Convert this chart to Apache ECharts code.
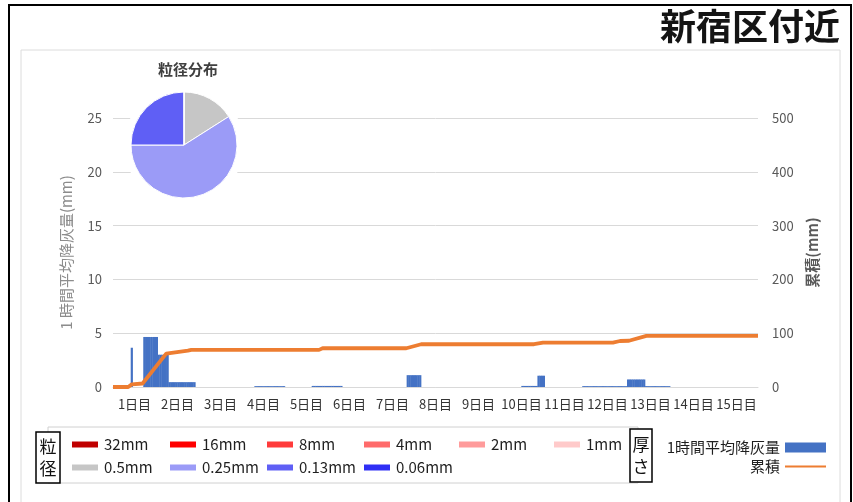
<!DOCTYPE html>
<html>
<head>
<meta charset="utf-8">
<title>新宿区付近</title>
<script src="https://cdn.jsdelivr.net/npm/echarts@6/dist/echarts.min.js"></script>
<style>
  html, body { margin: 0; padding: 0; background: #fff; }
  #chart { width: 853px; height: 502px; }
</style>
</head>
<body>
<div id="chart"></div>
<script>
// 横軸（日）
const dayLabels = ['1日目', '2日目', '3日目', '4日目', '5日目', '6日目', '7日目', '8日目',
  '9日目', '10日目', '11日目', '12日目', '13日目', '14日目', '15日目']

// 1時間平均降灰量(mm) 時間帯ごと: 開始時, 終了時, 値
const ashStartHour = [10, 17, 25, 31, 79, 111, 164, 228, 237, 262, 287, 297]
const ashEndHour = [10, 24, 30, 45, 95, 127, 171, 236, 240, 286, 296, 310]
const ashValue = [3.65, 4.65, 3.0, 0.45, 0.08, 0.1, 1.1, 0.1, 1.05, 0.08, 0.7, 0.08]

// 累積(mm)
const cumHour = [0, 8.5, 10.5, 16.5, 29.7, 41.8, 43.7, 115, 117, 163.7, 172, 235, 240, 279, 283, 288, 297.7, 360]
const cumValue = [0, 0, 5, 6.5, 62, 67.5, 69, 69, 72, 72, 79.5, 79.5, 82.5, 82.5, 85.5, 86, 95, 95]

// 粒径分布(%)
const grainNames = ['32mm', '16mm', '8mm', '4mm', '2mm', '1mm', '0.5mm', '0.25mm', '0.13mm', '0.06mm']
const grainShare = [0, 0, 0, 0, 0, 0, 16, 59, 25, 0]
const grainColors = ['#C00000', '#FF0000', '#FF3B3B', '#FF6B6B', '#FF9B9B', '#FFCACA',
  '#C6C6C6', '#9B9BF7', '#5F5FF5', '#2F2FF5']

const FONT = '"Noto Sans CJK JP", "Noto Sans", sans-serif'
const totalHours = dayLabels.length * 24

const hourCats = []
const ashHourly = []
for (let h = 0; h < totalHours; h++) {
  hourCats.push(h)
  ashHourly.push(0)
}
ashStartHour.forEach((s, i) => {
  for (let h = s; h <= ashEndHour[i]; h++) ashHourly[h] = ashValue[i]
})

const legendCols = [70, 168, 265, 362, 457, 552] // 凡例の列位置
const grainLegends = legendCols.map((x, i) => ({
  left: x,
  top: 437,
  orient: 'vertical',
  padding: 0,
  itemGap: 8,
  itemWidth: 28,
  itemHeight: 8,
  icon: 'rect',
  selectedMode: false,
  textStyle: { fontFamily: FONT, fontSize: 15, color: '#1f1f1f' },
  data: grainNames.filter((n, j) => j % 6 === i),
}))

const option = {
  animation: false,
  textStyle: { fontFamily: FONT },
  title: {
    text: '新宿区付近',
    right: 13,
    top: 8,
    padding: 0,
    textStyle: { fontFamily: FONT, fontSize: 36, fontWeight: 'bold', color: '#141414' },
  },
  grid: {
    left: 113,
    right: 95,
    top: 118,
    bottom: 115,
    outerBoundsMode: 'none',
  },
  legend: [
    ...grainLegends,
    {
      right: 26,
      top: 440,
      orient: 'vertical',
      align: 'right',
      padding: 0,
      itemGap: 4,
      itemWidth: 41,
      itemHeight: 10,
      selectedMode: false,
      textStyle: { fontFamily: FONT, fontSize: 15, color: '#1f1f1f' },
      data: [
        { name: '1時間平均降灰量', icon: 'rect' },
        { name: '累積', itemStyle: { opacity: 0 } },
      ],
    },
  ],
  xAxis: [
    { type: 'category', data: hourCats, show: false, boundaryGap: true },
    { type: 'value', min: 0, max: totalHours, show: false },
    {
      type: 'category',
      data: dayLabels,
      position: 'bottom',
      axisLine: { lineStyle: { color: '#d9d9d9' } },
      axisTick: { length: 5, lineStyle: { color: '#d9d9d9' } },
      axisLabel: { color: '#333', fontSize: 13, margin: 11, interval: 0, fontFamily: FONT },
    },
  ],
  yAxis: [
    {
      type: 'value',
      min: 0,
      max: 25,
      interval: 5,
      name: '1 時間平均降灰量(mm)',
      nameLocation: 'middle',
      nameRotate: 90,
      nameGap: 39,
      nameTextStyle: { color: '#8c8c8c', fontSize: 15, fontFamily: FONT },
      axisLine: { show: false },
      axisTick: { show: false },
      axisLabel: { color: '#595959', fontSize: 13, margin: 11 },
      splitLine: { lineStyle: { color: '#d9d9d9' } },
    },
    {
      type: 'value',
      min: 0,
      max: 500,
      interval: 100,
      position: 'right',
      name: '累積(mm)',
      nameLocation: 'middle',
      nameRotate: 90,
      nameGap: 45,
      nameTextStyle: { color: '#595959', fontSize: 15, fontWeight: 'bold', fontFamily: FONT },
      axisLine: { show: false },
      axisTick: { show: false },
      axisLabel: { color: '#595959', fontSize: 13, margin: 14 },
      splitLine: { show: false },
    },
  ],
  series: [
    {
      name: '1時間平均降灰量',
      type: 'bar',
      xAxisIndex: 0,
      yAxisIndex: 0,
      data: ashHourly,
      barWidth: 2.2,
      barGap: '0%',
      itemStyle: { color: '#4472C4' },
      silent: true,
    },
    {
      name: '累積',
      type: 'line',
      xAxisIndex: 1,
      yAxisIndex: 1,
      data: cumHour.map((h, i) => [h, cumValue[i]]),
      symbol: 'none',
      lineStyle: { color: '#ED7D31', width: 3.8 },
      itemStyle: { color: '#ED7D31' },
      z: 3,
      silent: true,
    },
    {
      // 円グラフ背景
      name: 'pieBg',
      type: 'pie',
      center: [184, 145],
      radius: 60,
      silent: true,
      label: { show: false },
      labelLine: { show: false },
      data: [{ name: '', value: 1, itemStyle: { color: '#fff' } }],
      z: 4,
    },
    {
      name: '粒径分布',
      type: 'pie',
      center: [184, 145],
      radius: 53,
      startAngle: 90,
      clockwise: true,
      silent: true,
      label: { show: false },
      labelLine: { show: false },
      itemStyle: { borderColor: '#fff', borderWidth: 1 },
      data: grainNames.map((n, i) => ({ name: n, value: grainShare[i], itemStyle: { color: grainColors[i] } })),
      z: 5,
    },
  ],
  graphic: {
    elements: [
      { type: 'rect', shape: { x: 9, y: 5, width: 842, height: 510 }, style: { fill: 'none', stroke: '#000', lineWidth: 2 }, z: 0 },
      { type: 'rect', shape: { x: 21, y: 50, width: 819, height: 460 }, style: { fill: 'none', stroke: '#dcdcdc', lineWidth: 1 }, z: 0 },
      {
        type: 'text', x: 188, y: 69, z: 10,
        style: { text: '粒径分布', font: 'bold 15px ' + FONT, fill: '#404040', align: 'center', verticalAlign: 'middle', textAlign: 'center', textVerticalAlign: 'middle' },
      },
      { type: 'rect', shape: { x: 48, y: 427, width: 590, height: 56 }, style: { fill: 'none', stroke: '#d0d0d0', lineWidth: 1 }, z: 0 },
      { type: 'rect', shape: { x: 36, y: 432, width: 24, height: 51 }, style: { fill: '#fff', stroke: '#000', lineWidth: 1.5 }, z: 10 },
      {
        type: 'text', x: 48, y: 458, z: 11,
        style: { text: '粒\n径', font: '17px ' + FONT, lineHeight: 22, fill: '#111', align: 'center', verticalAlign: 'middle', textAlign: 'center', textVerticalAlign: 'middle' },
      },
      { type: 'rect', shape: { x: 630, y: 429, width: 22, height: 53 }, style: { fill: '#fff', stroke: '#000', lineWidth: 1.5 }, z: 10 },
      {
        type: 'text', x: 641, y: 456, z: 11,
        style: { text: '厚\nさ', font: '17px ' + FONT, lineHeight: 22, fill: '#111', align: 'center', verticalAlign: 'middle', textAlign: 'center', textVerticalAlign: 'middle' },
      },
    ],
  },
}

const myChart = echarts.init(document.getElementById('chart'))
myChart.setOption(option)
window.addEventListener('resize', () => myChart.resize())
</script>
</body>
</html>
